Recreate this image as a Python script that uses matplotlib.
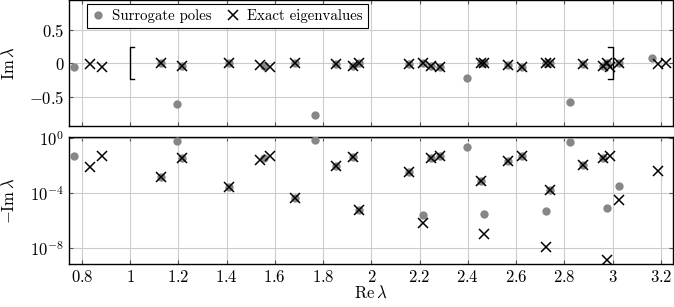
import matplotlib
matplotlib.use('Agg')
import numpy as np
import matplotlib.pyplot as plt
from matplotlib.lines import Line2D

plt.rcParams['mathtext.fontset'] = 'cm'
plt.rcParams['font.family'] = 'cmr10'
plt.rcParams['axes.formatter.use_mathtext'] = True

# surrogate poles (real / imaginary part)
pole_re = [0.767, 1.130, 1.195, 1.216, 1.412, 1.554, 1.685, 1.765, 1.853, 1.924,
           1.950, 2.158, 2.212, 2.248, 2.285, 2.396, 2.455, 2.467, 2.566, 2.626,
           2.724, 2.741, 2.824, 2.879, 2.959, 2.977, 3.025, 3.162]
pole_im = [-0.054, -0.00162, -0.615, -0.039, -3.0e-4, -0.0355, -4.3e-5, -0.775, -0.010, -0.0457,
           -6.2e-6, -0.0034, -2.6e-6, -0.039, -0.051, -0.215, -7.8e-4, -3.2e-6, -0.0224, -0.051,
           -5.1e-6, -1.7e-4, -0.58, -0.0115, -0.039, -8.9e-6, -3.5e-4, 0.075]

# exact eigenvalues
eig_re = [0.832, 0.882, 1.130, 1.216, 1.412, 1.540, 1.581, 1.685, 1.853, 1.924,
          1.950, 2.158, 2.212, 2.248, 2.285, 2.455, 2.467, 2.566, 2.626, 2.724,
          2.741, 2.879, 2.959, 2.977, 2.990, 3.025, 3.187, 3.221]
eig_im = [-0.0078, -0.054, -0.00162, -0.039, -3.0e-4, -0.026, -0.054, -4.3e-5, -0.010, -0.0457,
          -6.2e-6, -0.0034, -6.6e-7, -0.039, -0.051, -7.8e-4, -1.05e-7, -0.0224, -0.051, -1.17e-8,
          -1.7e-4, -0.0115, -0.039, -1.4e-9, -0.054, -3.2e-5, -0.0044, 0.002]

interval = [1.0, 3.0]
xticks = [0.8, 1.0, 1.2, 1.4, 1.6, 1.8, 2.0, 2.2, 2.4, 2.6, 2.8, 3.0, 3.2]
xticklabels = ['0.8', '1', '1.2', '1.4', '1.6', '1.8', '2', '2.2', '2.4', '2.6', '2.8', '3', '3.2']

gray = '#878787'
fs = 12

fig = plt.figure(figsize=(6.74, 3.07), dpi=100)
ax1 = fig.add_axes([0.1024, 0.5896, 0.8961, 0.4104])
ax2 = fig.add_axes([0.1024, 0.1401, 0.8961, 0.4127])

pole_re = np.array(pole_re)
pole_im = np.array(pole_im)
eig_re = np.array(eig_re)
eig_im = np.array(eig_im)

# top: imaginary part
ax1.plot(pole_re, pole_im, 'o', color=gray, ms=6, mec='none', zorder=3)
ax1.plot(eig_re, eig_im, 'x', color='black', ms=7, mew=1.1, zorder=4)
bh = 0.24
sl = 0.018
ax1.plot([interval[0] + sl, interval[0], interval[0], interval[0] + sl], [bh, bh, -bh, -bh],
         color='black', lw=1.0, zorder=5)
ax1.plot([interval[1] - sl, interval[1], interval[1], interval[1] - sl], [bh, bh, -bh, -bh],
         color='black', lw=1.0, zorder=5)
ax1.set_ylim(-0.94, 0.95)
ax1.set_yticks([-0.5, 0, 0.5])
ax1.set_yticklabels([r'$-0.5$', r'$0$', r'$0.5$'])
ax1.set_ylabel(r'$\mathrm{Im}\,\lambda$', fontsize=fs)

# bottom: -Im on log scale
neg_p = -pole_im
neg_e = -eig_im
mp = neg_p > 0
me = neg_e > 0
ax2.plot(pole_re[mp], neg_p[mp], 'o', color=gray, ms=6, mec='none', zorder=3)
ax2.plot(eig_re[me], neg_e[me], 'x', color='black', ms=7, mew=1.1, zorder=4)
ax2.set_yscale('log')
ax2.set_ylim(10 ** -9.15, 10 ** 0.07)
ax2.set_yticks([1e-8, 1e-4, 1e0])
ax2.set_yticklabels([r'$10^{-8}$', r'$10^{-4}$', r'$10^{0}$'])
ax2.minorticks_off()
ax2.set_ylabel(r'$-\mathrm{Im}\,\lambda$', fontsize=fs)
ax2.set_xlabel(r'$\mathrm{Re}\,\lambda$', fontsize=fs)

for ax in (ax1, ax2):
    ax.set_xlim(0.747, 3.25)
    ax.set_xticks(xticks)
    ax.grid(True, color='#cccccc', lw=0.8, zorder=0)
    ax.set_axisbelow(True)
    ax.tick_params(direction='in', length=3, width=0.8, color='#555555',
                   top=True, right=True, labelsize=fs)
    for s in ax.spines.values():
        s.set_linewidth(1.0)
    ax.yaxis.set_label_coords(-0.086, 0.5)

ax1.set_xticklabels([])
ax2.set_xticklabels([r'$%s$' % t for t in xticklabels])
ax2.xaxis.set_label_coords(0.5, -0.16)

handles = [Line2D([], [], marker='o', ls='none', color=gray, ms=6, mec='none'),
           Line2D([], [], marker='x', ls='none', color='black', ms=7, mew=1.1)]
leg = ax1.legend(handles, ['Surrogate poles', 'Exact eigenvalues'], loc='upper left',
                 bbox_to_anchor=(0.0298, 0.968), borderaxespad=0, ncol=2, fancybox=False,
                 edgecolor='black', framealpha=1, fontsize=10.7, handlelength=0.8,
                 handletextpad=0.5, columnspacing=1.1, borderpad=0.35)
leg.get_frame().set_linewidth(0.8)

fig.savefig('out.png', dpi=100)
